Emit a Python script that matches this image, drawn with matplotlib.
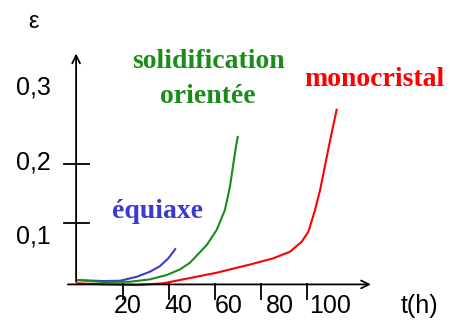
import matplotlib.pyplot as plt

# creep curves (schematic), eps vs t(h)
t_equiaxe = [0, 11.3, 18.7, 26.0, 31.7, 36.1, 39.7, 41.9, 42.7]
eps_equiaxe = [0.0034, 0.0017, 0.0022, 0.0090, 0.0175, 0.0271, 0.0402, 0.0514, 0.0559]

t_orientee = [0, 11.3, 23.0, 31.7, 39.0, 44.8, 49.1, 56.4, 60.7, 64.3, 66.5, 68.0, 69.1, 69.9]
eps_orientee = [0.0034, 0.0, 0.0005, 0.0046, 0.0119, 0.0215, 0.0327, 0.0627, 0.0881,
                0.122, 0.1615, 0.201, 0.229, 0.246]

t_mono = [0, 11.3, 26.0, 37.4, 46.2, 60.7, 75.2, 85.3, 92.6, 97.7, 100.6, 103.5,
          105.7, 108.6, 110.7, 112.9]
eps_mono = [-0.0022, -0.0039, -0.0051, -0.0022, 0.0046, 0.0158, 0.0297, 0.0402, 0.0514,
            0.0683, 0.0853, 0.122, 0.156, 0.212, 0.252, 0.292]

x_ticks = [20, 40, 60, 80, 100]
x_ticklabels = ['20', '40', '60', '80', '100']
y_ticks = [0.1, 0.2]
y_ticklabels = ['0,1', '0,2', '0,3']
y_label_pos = [0.078, 0.202, 0.33]

blue = '#3b3bd2'
green = '#1a8c1a'
red = '#ff0000'

fig = plt.figure(figsize=(4.5, 3.21), dpi=100)
ax = fig.add_axes([0, 0, 1, 1])
ax.set_xlim(-33.5, 162.2)
ax.set_ylim(-0.066, 0.478)
ax.axis('off')

# axes with arrows
arrow = dict(arrowstyle='->', color='black', lw=1.3, mutation_scale=14)
ax.annotate('', xy=(-0.4, 0.392), xytext=(-0.4, -0.004), arrowprops=arrow)
ax.annotate('', xy=(129, -0.004), xytext=(-5.2, -0.004), arrowprops=arrow)

for y in y_ticks:
    ax.plot([-5.7, 5.2], [y, y], color='black', lw=1.3)
for x in x_ticks:
    ax.plot([x, x], [-0.003, -0.028], color='black', lw=1.3)

sans = ['Liberation Sans', 'DejaVu Sans']
for x, lab in zip(x_ticks, x_ticklabels):
    ax.text(x * 1.1, -0.041, lab, ha='center', va='center', fontsize=18, family=sans)
for y, lab in zip(y_label_pos, y_ticklabels):
    ax.text(-19, y, lab, ha='center', va='center', fontsize=18, family=sans)
ax.text(-19, 0.44, 'ε', ha='center', va='center', fontsize=17, family=sans)
ax.text(149, -0.041, 't(h)', ha='center', va='center', fontsize=18, family=sans)

ax.plot(t_equiaxe, eps_equiaxe, color=blue, lw=1.5)
ax.plot(t_orientee, eps_orientee, color=green, lw=1.5)
ax.plot(t_mono, eps_mono, color=red, lw=1.5)

serif = dict(family=['Liberation Serif', 'DejaVu Serif'], fontweight='bold', fontsize=20,
             ha='center', va='center')
ax.text(34.8, 0.12, 'équiaxe', color=blue, **serif)
ax.text(57, 0.373, 'solidification', color=green, **serif)
ax.text(57, 0.315, 'orientée', color=green, **serif)
ax.text(129.5, 0.344, 'monocristal', color=red, **serif)

fig.savefig('out.png', dpi=100)
